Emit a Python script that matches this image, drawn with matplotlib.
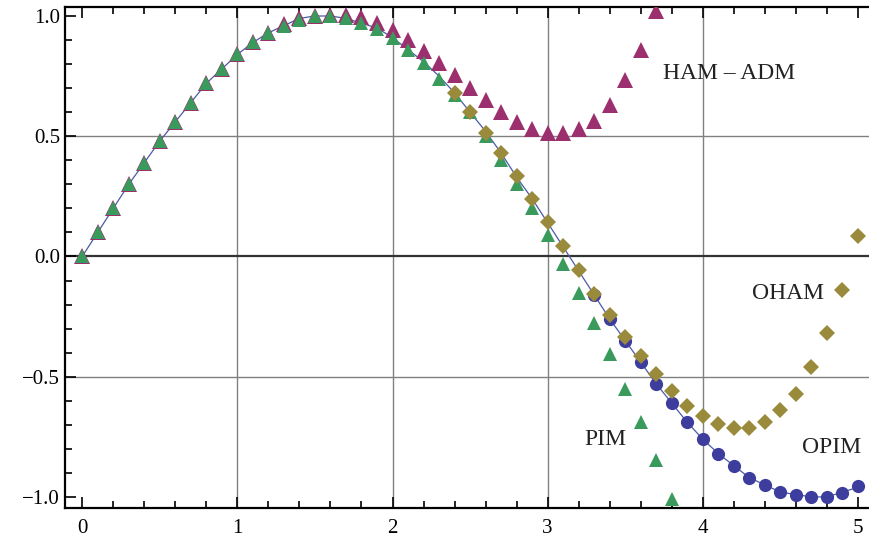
import matplotlib.pyplot as plt
import numpy as np

plt.rcParams['font.family'] = ['Liberation Serif', 'DejaVu Serif']

# exact solution, step 0.1
x_exact = [i / 10 for i in range(0, 51)]
y_exact = [0.00, 0.10, 0.20, 0.30, 0.39, 0.48, 0.56, 0.64, 0.72, 0.78,
           0.84, 0.89, 0.93, 0.96, 0.99, 1.00, 1.00, 0.99, 0.97, 0.95,
           0.91, 0.86, 0.81, 0.75, 0.68, 0.60, 0.52, 0.43, 0.33, 0.24,
           0.14, 0.04, -0.06, -0.16, -0.26, -0.35, -0.44, -0.53, -0.61, -0.69,
           -0.76, -0.82, -0.87, -0.92, -0.95, -0.98, -0.99, -1.00, -1.00, -0.98,
           -0.96]

# OPIM circles (only visible part)
x_opim = [i / 10 for i in range(33, 51)]
y_opim = [-0.16, -0.26, -0.35, -0.44, -0.53, -0.61, -0.69,
          -0.76, -0.82, -0.87, -0.92, -0.95, -0.98, -0.99, -1.00, -1.00, -0.985,
          -0.955]

x_ham = [i / 10 for i in range(0, 38)]
y_ham = [0.00, 0.10, 0.20, 0.30, 0.39, 0.48, 0.56, 0.64, 0.72, 0.78,
         0.84, 0.89, 0.93, 0.965, 0.99, 1.00, 1.005, 1.005, 0.995, 0.97,
         0.94, 0.90, 0.855, 0.805, 0.755, 0.70, 0.65, 0.60, 0.56, 0.53,
         0.515, 0.515, 0.53, 0.565, 0.63, 0.735, 0.86, 1.02]

x_pim = [i / 10 for i in range(0, 39)]
y_pim = [0.00, 0.10, 0.20, 0.30, 0.39, 0.48, 0.56, 0.64, 0.72, 0.78,
         0.84, 0.89, 0.93, 0.96, 0.985, 1.00, 1.00, 0.99, 0.97, 0.945,
         0.91, 0.86, 0.805, 0.74, 0.67, 0.60, 0.50, 0.40, 0.30, 0.20,
         0.09, -0.03, -0.15, -0.275, -0.405, -0.55, -0.69, -0.845, -1.01]

x_oham = [i / 10 for i in range(24, 51)]
y_oham = [0.68, 0.60, 0.515, 0.43, 0.335, 0.24, 0.145, 0.045, -0.055, -0.155,
          -0.245, -0.335, -0.415, -0.49, -0.56, -0.62, -0.665, -0.695, -0.715, -0.715,
          -0.69, -0.64, -0.57, -0.46, -0.32, -0.14, 0.085]

labels = ["HAM \u2013 ADM", "OHAM", "PIM", "OPIM"]
label_x = [4.17, 4.55, 3.37, 4.83]
label_y = [0.76, -0.155, -0.76, -0.795]

grid_x = [1, 2, 3, 4]
grid_y = [-0.5, 0.5]

fig = plt.figure(figsize=(8.69, 5.4), dpi=100)
ax = fig.add_axes([0.0748, 0.0593, 0.925, 0.928])

for g in grid_x:
    ax.axvline(g, color='#808080', lw=1.0, zorder=0)
for g in grid_y:
    ax.axhline(g, color='#808080', lw=1.0, zorder=0)
ax.axhline(0, color='#333333', lw=1.6, zorder=0)

ax.plot(x_exact, y_exact, '-', color='#4a5aa8', lw=0.9, zorder=1)
ax.plot(x_opim, y_opim, 'o', color='#3d3d9e', ms=9.5, mew=0, zorder=2)
ax.plot(x_ham, y_ham, '^', color='#9c2f6e', ms=12, mew=0, zorder=3)
ax.plot(x_pim, y_pim, '^', color='#3a9a5c', ms=9.5, mew=0, zorder=4)
ax.plot(x_oham, y_oham, 'D', color='#9a8a3c', ms=8.5, mew=0, zorder=5)

for t, lx, ly in zip(labels, label_x, label_y):
    ax.text(lx, ly, t, fontsize=17, ha='center', va='center', color='#222222')

ax.set_xlim(-0.111, 5.07)
ax.set_ylim(-1.046, 1.038)

ax.set_xticks([0, 1, 2, 3, 4, 5])
ax.set_xticks(np.arange(0, 5.01, 0.2), minor=True)
ax.set_yticks([-1.0, -0.5, 0.0, 0.5, 1.0])
ax.set_yticklabels(["\u22121.0", "\u22120.5", "0.0", "0.5", "1.0"])
ax.set_yticks(np.arange(-1.0, 1.01, 0.1), minor=True)

ax.tick_params(which='both', direction='in', top=True, right=False,
               labelsize=15, width=1.2)
ax.tick_params(which='major', length=8)
ax.tick_params(which='minor', length=5)
ax.tick_params(axis='x', pad=8)

for s in ['left', 'bottom', 'top']:
    ax.spines[s].set_linewidth(1.6)
ax.spines['right'].set_visible(False)

fig.savefig('out.png', dpi=100)
